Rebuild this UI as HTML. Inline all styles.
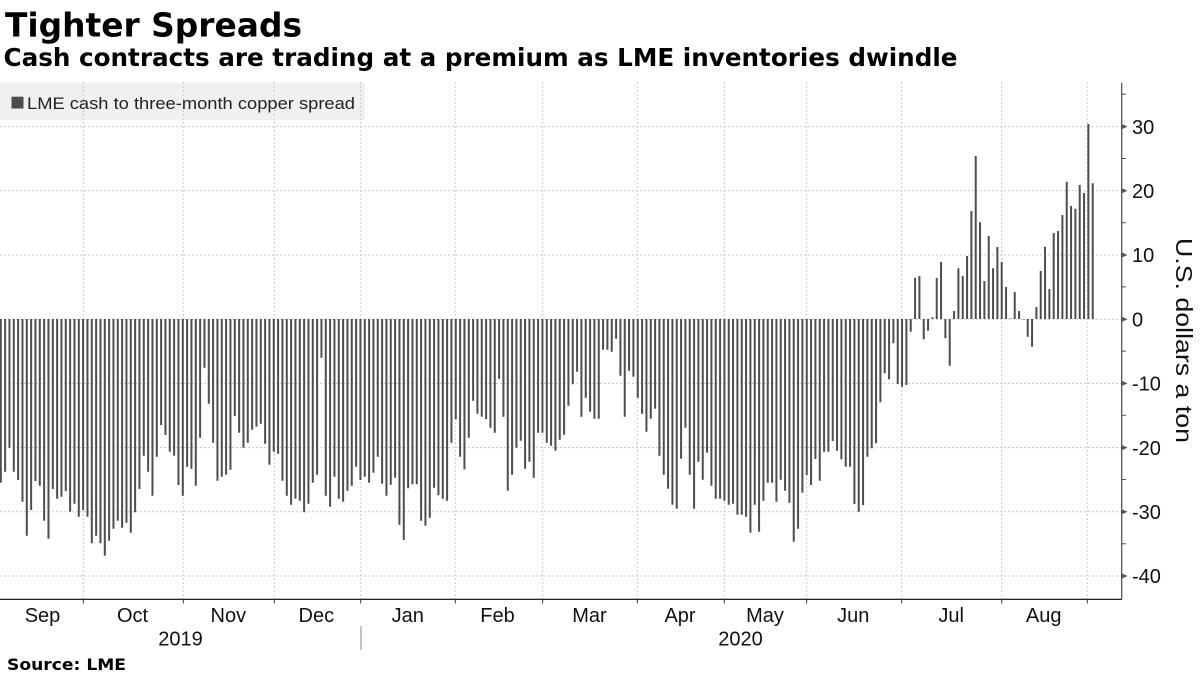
<!DOCTYPE html>
<html><head><meta charset="utf-8"><style>
html,body{margin:0;padding:0;background:#fff;}
svg{display:block;}
</style></head><body>
<svg width="1200" height="675" viewBox="0 0 1200 675" xmlns="http://www.w3.org/2000/svg">
<rect x="0" y="0" width="1200" height="675" fill="#fff"/>
<!-- title -->
<text x="5" y="36.7" font-family="DejaVu Sans, 'Liberation Sans', sans-serif" font-weight="bold" font-size="33" fill="#000" textLength="297" lengthAdjust="spacingAndGlyphs">Tighter Spreads</text>
<text x="3.5" y="66" font-family="DejaVu Sans, 'Liberation Sans', sans-serif" font-weight="bold" font-size="25" fill="#000" textLength="954" lengthAdjust="spacingAndGlyphs">Cash contracts are trading at a premium as LME inventories dwindle</text>
<!-- legend bg -->
<rect x="0" y="82.7" width="365" height="37.3" fill="#f0f0f0"/>
<!-- grid -->
<g stroke="#c8c8c8" stroke-width="1" stroke-dasharray="2,2" fill="none">
<path d="M0,126.6H1121M0,190.8H1121M0,255H1121M0,319.2H1121M0,383.4H1121M0,447.6H1121M0,511.8H1121M0,576H1121"/>
<path d="M83.3,82V599M183.3,82V599M274.3,82V599M360.7,82V599M455.3,82V599M542.7,82V599M637.3,82V599M724.3,82V599M806.7,82V599M901.7,82V599M1001.7,82V599M1087.3,82V599"/>
</g>
<!-- legend -->
<rect x="11.5" y="96.7" width="12" height="11.8" fill="#4d4d4d"/>
<text x="27" y="109" font-family="'Liberation Sans', sans-serif" font-size="17" fill="#222" textLength="328" lengthAdjust="spacingAndGlyphs">LME cash to three-month copper spread</text>
<!-- bars -->
<path fill="none" stroke="#4d4d4d" stroke-width="2" d="M0.8,319
v163.7m4.333-163.7v152.7m4.333-152.7v128.7m4.333-128.7v152.7m4.333-152.7v161m4.333-161v182.7m4.333-182.7v216.7m4.333-216.7v191m4.333-191v162m4.333-162v166.7m4.333-166.7
v201.7m4.333-201.7v219.7m4.333-219.7v170m4.333-170v179.7m4.333-179.7v177.7m4.333-177.7v172m4.333-172v192.7m4.333-192.7v184.7m4.333-184.7v197.7m4.333-197.7v191m4.333-191
v197.7m4.333-197.7v224.3m4.333-224.3v216.7m4.333-216.7v224.3m4.333-224.3v236.7m4.333-236.7v221.7m4.333-221.7v209.7m4.333-209.7v201.7m4.333-201.7v208.7m4.333-208.7v203.7m4.333-203.7
v213.7m4.333-213.7v193.3m4.333-193.3v170m4.333-170v136.7m4.333-136.7v152.7m4.333-152.7v176.7m4.333-176.7v137.7m4.333-137.7v106m4.333-106v116m4.333-116v132.7m4.333-132.7
v136.7m4.333-136.7v166m4.333-166v176.7m4.333-176.7v147.7m4.333-147.7v149.7m4.333-149.7v166.7m4.333-166.7v118.7m4.333-118.7v48.7m4.333-48.7v84.7m4.333-84.7v123.7m4.333-123.7
v161.7m4.333-161.7v157.7m4.333-157.7v155.7m4.333-155.7v150.7m4.333-150.7v97m4.333-97v113.7m4.333-113.7v128.7m4.333-128.7v123.7m4.333-123.7v110.7m4.333-110.7v107.7m4.333-107.7
v104.7m4.333-104.7v124.7m4.333-124.7v145.7m4.333-145.7v132.7m4.333-132.7v134.7m4.333-134.7v161.7m4.333-161.7v176.7m4.333-176.7v185.7m4.333-185.7v179.7m4.333-179.7v181.7m4.333-181.7
v193.3m4.333-193.3v184.7m4.333-184.7v163.7m4.333-163.7v155.7m4.333-155.7v38.7m4.333-38.7v176.7m4.333-176.7v187.7m4.333-187.7v157.7m4.333-157.7v179.7m4.333-179.7v182.7m4.333-182.7
v171.7m4.333-171.7v166.7m4.333-166.7v147.7m4.333-147.7v161m4.333-161v157.7m4.333-157.7v163.7m4.333-163.7v153.7m4.333-153.7v137.7m4.333-137.7v164.7m4.333-164.7v176.7m4.333-176.7
v165.7m4.333-165.7v158.7m4.333-158.7v205.7m4.333-205.7
v221m4.333-221v169.3m4.333-169.3v165.3m4.333-165.3v165.3m4.333-165.3v201.7m4.333-201.7v206.7m4.333-206.7v198.7m4.333-198.7v168.7m4.333-168.7v176.3m4.333-176.3v179.7m4.333-179.7
v181.7m4.333-181.7v123.7m4.333-123.7v100.3m4.333-100.3v137.7m4.333-137.7v150.3m4.333-150.3v118.7m4.333-118.7v81.7m4.333-81.7v94.7m4.333-94.7v97.7m4.333-97.7v100.3m4.333-100.3
v108.7m4.333-108.7v113.7m4.333-113.7v59.7m4.333-59.7v97.7m4.333-97.7v171.7m4.333-171.7v155.7m4.333-155.7v128.7m4.333-128.7v121.7m4.333-121.7v149.7m4.333-149.7v142.7m4.333-142.7
v158.7m4.333-158.7v113.7m4.333-113.7v113.7m4.333-113.7v123.7m4.333-123.7v126.7m4.333-126.7v131.7m4.333-131.7v120.7m4.333-120.7v115.7m4.333-115.7v86.7m4.333-86.7v65.3m4.333-65.3
v52.7m4.333-52.7v97.7m4.333-97.7v78.7m4.333-78.7v92.7m4.333-92.7v99.7m4.333-99.7v99.7m4.333-99.7v30.7m4.333-30.7v30.7m4.333-30.7v32.7m4.333-32.7v19.7m4.333-19.7
v56.7m4.333-56.7v97.7m4.333-97.7v51.7m4.333-51.7v57.7m4.333-57.7v78.7m4.333-78.7v94.7m4.333-94.7v112.7m4.333-112.7v99.7m4.333-99.7v89.7m4.333-89.7v136.7m4.333-136.7
v155.7m4.333-155.7v169.7m4.333-169.7v185.7m4.333-185.7v189.7m4.333-189.7v139.7m4.333-139.7v108.7m4.333-108.7v155.7m4.333-155.7v189.7m4.333-189.7v142.7m4.333-142.7v160.7m4.333-160.7
v133.7m4.333-133.7v166.7m4.333-166.7v179.7m4.333-179.7v179.7m4.333-179.7v181.7m4.333-181.7v185.7m4.333-185.7v184.7m4.333-184.7v195.7m4.333-195.7v195.7m4.333-195.7v197.7m4.333-197.7
v213.7m4.333-213.7v185.7m4.333-185.7v212.7m4.333-212.7v181.7m4.333-181.7v163.7m4.333-163.7v163.7m4.333-163.7v182.7m4.333-182.7v160.7m4.333-160.7v171.7m4.333-171.7v183.7m4.333-183.7
v222.7m4.333-222.7v209.7m4.333-209.7
v173.7m4.333-173.7v156m4.333-156v166m4.333-166v140m4.333-140v161.7m4.333-161.7v132.7m4.333-132.7v132.7m4.333-132.7v122m4.333-122v131.7m4.333-131.7v140.3m4.333-140.3
v147.7m4.333-147.7v147.7m4.333-147.7v185m4.333-185v192.7m4.333-192.7v186m4.333-186v137.7m4.333-137.7v129.3m4.333-129.3v124.3m4.333-124.3v83.3m4.333-83.3v54.3m4.333-54.3
v60.3m4.333-60.3v24.3m4.333-24.3v65m4.333-65v67.7m4.333-67.7v66m4.333-66v12.7m4.333-12.7v-41.3m4.333,41.3v-43m4.333,43v20.3m4.333-20.3v11.7m4.333-11.7
v-1.7m4.333,1.7v-41m4.333,41v-57m4.333,57v19.3m4.333-19.3v46.7m4.333-46.7v-8m4.333,8v-50.7m4.333,50.7v-43m4.333,43v-63m4.333,63v-108m4.333,108
v-163m4.333,163v-96.7m4.333,96.7v-38m4.333,38v-83m4.333,83v-50.7m4.333,50.7v-72m4.333,72v-57m4.333,57v-32m4.333,32v-0.5m4.333,0.5v-27m4.333,27
v-8m4.333,8v0.5m4.333-0.5v17.7m4.333-17.7v27.7m4.333-27.7v-12m4.333,12v-48m4.333,48v-72.3m4.333,72.3v-30m4.333,30v-86m4.333,86v-88m4.333,88
v-104m4.333,104v-137.3m4.333,137.3v-113m4.333,113v-110.3m4.333,110.3v-134m4.333,134v-126m4.333,126v-195m4.333,195v-135.7"/>
<!-- bottom axis -->
<path d="M0,599.3H1122" stroke="#000" stroke-width="1.2" fill="none"/>
<path d="M83.3,599V603.5M183.3,599V603.5M274.3,599V603.5M360.7,599V603.5M455.3,599V603.5M542.7,599V603.5M637.3,599V603.5M724.3,599V603.5M806.7,599V603.5M901.7,599V603.5M1001.7,599V603.5M1087.3,599V603.5" stroke="#333" stroke-width="1" fill="none"/>
<!-- right axis -->
<path d="M1121.7,82.7V599.5" stroke="#555" stroke-width="1.3" fill="none"/>
<path d="M1122,94.3h4M1122,158.5h4M1122,222.7h4M1122,286.9h4M1122,351.1h4M1122,415.3h4M1122,479.5h4M1122,543.7h4" stroke="#555" stroke-width="1" fill="none"/>
<g fill="#555">
<path d="M1122,124.1l5.5,2.5l-5.5,2.5z"/>
<path d="M1122,188.3l5.5,2.5l-5.5,2.5z"/>
<path d="M1122,252.5l5.5,2.5l-5.5,2.5z"/>
<path d="M1122,316.7l5.5,2.5l-5.5,2.5z"/>
<path d="M1122,380.9l5.5,2.5l-5.5,2.5z"/>
<path d="M1122,445.1l5.5,2.5l-5.5,2.5z"/>
<path d="M1122,509.3l5.5,2.5l-5.5,2.5z"/>
<path d="M1122,573.5l5.5,2.5l-5.5,2.5z"/>
</g>
<g font-family="'Liberation Sans', sans-serif" font-size="20" fill="#111">
<text x="1132" y="133.8">30</text>
<text x="1132" y="198">20</text>
<text x="1132" y="262.2">10</text>
<text x="1132" y="326.4">0</text>
<text x="1132" y="390.6">-10</text>
<text x="1132" y="454.8">-20</text>
<text x="1132" y="519">-30</text>
<text x="1132" y="583.2">-40</text>
</g>
<text transform="translate(1176,238) rotate(90)" x="0" y="0" font-family="'Liberation Sans', sans-serif" font-size="23" fill="#111" textLength="205" lengthAdjust="spacingAndGlyphs">U.S. dollars a ton</text>
<!-- month labels -->
<g font-family="'Liberation Sans', sans-serif" font-size="20" fill="#111" text-anchor="middle">
<text x="42.5" y="622">Sep</text>
<text x="132.5" y="622">Oct</text>
<text x="228.3" y="622">Nov</text>
<text x="316.3" y="622">Dec</text>
<text x="407.8" y="622">Jan</text>
<text x="497.5" y="622">Feb</text>
<text x="589.5" y="622">Mar</text>
<text x="680" y="622">Apr</text>
<text x="765" y="622">May</text>
<text x="853.3" y="622">Jun</text>
<text x="951.2" y="622">Jul</text>
<text x="1043.7" y="622">Aug</text>
<text x="180.5" y="645.5">2019</text>
<text x="740.5" y="645.5">2020</text>
</g>
<path d="M361,626V650" stroke="#888" stroke-width="1" fill="none"/>
<text x="7" y="670" font-family="DejaVu Sans, 'Liberation Sans', sans-serif" font-weight="bold" font-size="16" fill="#000" textLength="119" lengthAdjust="spacingAndGlyphs">Source: LME</text>
</svg>
</body></html>
